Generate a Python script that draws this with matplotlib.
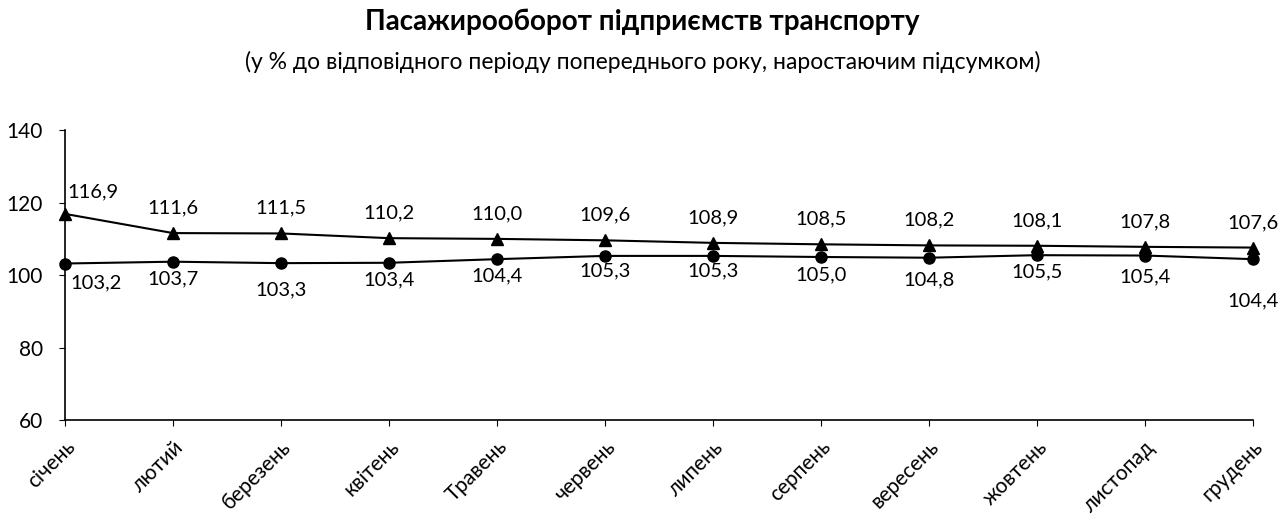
import matplotlib.pyplot as plt

plt.rcParams["font.family"] = ["Lato", "DejaVu Sans"]

months = ["січень", "лютий", "березень", "квітень", "Травень", "червень",
          "липень", "серпень", "вересень", "жовтень", "листопад", "грудень"]
upper = [116.9, 111.6, 111.5, 110.2, 110.0, 109.6, 108.9, 108.5, 108.2, 108.1, 107.8, 107.6]
lower = [103.2, 103.7, 103.3, 103.4, 104.4, 105.3, 105.3, 105.0, 104.8, 105.5, 105.4, 104.4]
y_ticks = [60, 80, 100, 120, 140]

# label placement (points below the marker) for the lower series
lower_dy = [-8, -6, -13, -6, -6, -5, -5, -7, -10, -6, -9, -24]


def fmt(v):
    return f"{v:.1f}".replace(".", ",")


fig = plt.figure(figsize=(12.85, 5.23), dpi=100)
ax = fig.add_axes([0.0506, 0.197, 0.9244, 0.554])

x = list(range(len(months)))
ax.plot(x, upper, color="black", lw=1.5, marker="^", ms=8, clip_on=False, zorder=3)
ax.plot(x, lower, color="black", lw=1.5, marker="o", ms=8, clip_on=False, zorder=3)

for i, v in enumerate(upper):
    dx = 20 if i == 0 else 0
    dy = 10 if i == 0 else 12
    ax.annotate(fmt(v), (i, v), xytext=(dx, dy), textcoords="offset points",
                ha="center", va="bottom", fontsize=14.5)
for i, v in enumerate(lower):
    dx = 22 if i == 0 else 0
    ax.annotate(fmt(v), (i, v), xytext=(dx, lower_dy[i]), textcoords="offset points",
                ha="center", va="top", fontsize=14.5)

ax.set_xlim(0, len(months) - 1)
ax.set_ylim(60, 140)
ax.set_yticks(y_ticks)
ax.set_xticks(x)
ax.set_xticklabels(months, rotation=45, ha="right", rotation_mode="anchor", fontsize=15)
ax.tick_params(axis="y", labelsize=15, direction="out", length=4, pad=12)
ax.tick_params(axis="x", direction="out", length=4, pad=8)
for s in ("top", "right"):
    ax.spines[s].set_visible(False)
for s in ("left", "bottom"):
    ax.spines[s].set_linewidth(1.2)

fig.text(0.5, 0.958, "Пасажирооборот підприємств транспорту",
         ha="center", va="center", fontsize=20, fontweight="bold")
fig.text(0.5, 0.881, "(у % до відповідного періоду попереднього року, наростаючим підсумком)",
         ha="center", va="center", fontsize=16.5)

fig.savefig("out.png", dpi=100)
